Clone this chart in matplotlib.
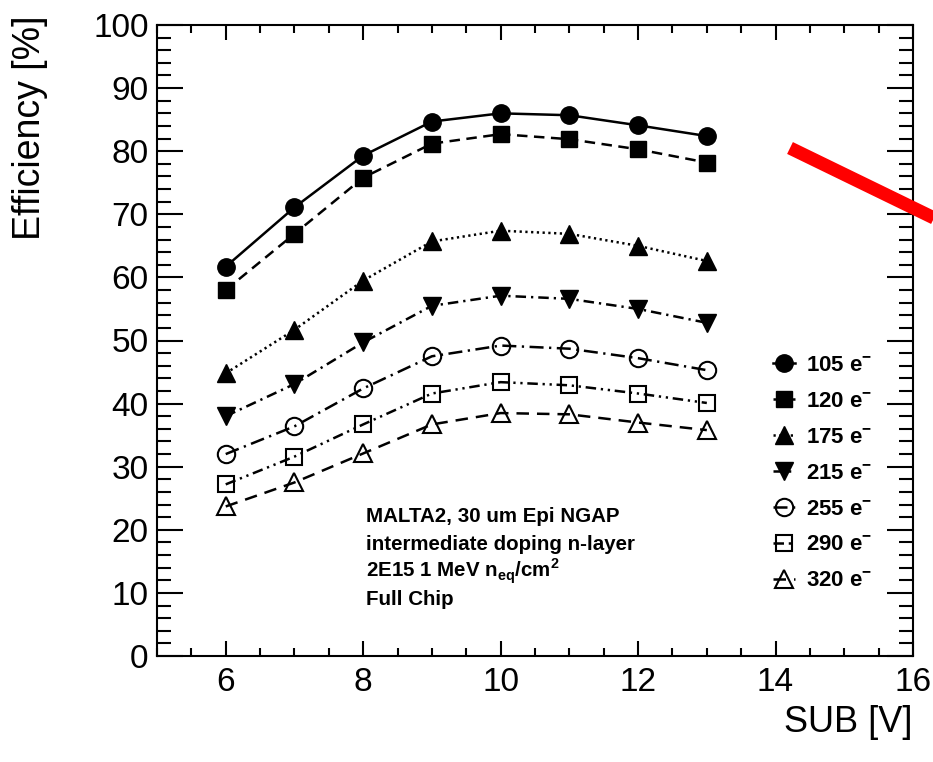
import matplotlib
matplotlib.use("Agg")
import matplotlib.pyplot as plt
from matplotlib.lines import Line2D
from matplotlib.ticker import MultipleLocator

plt.rcParams['font.family'] = ['Liberation Sans', 'DejaVu Sans']
plt.rcParams['mathtext.fontset'] = 'custom'
plt.rcParams['mathtext.rm'] = 'Liberation Sans'
plt.rcParams['mathtext.bf'] = 'Liberation Sans:bold'

# ---- data ----
sub_v = [6, 7, 8, 9, 10, 11, 12, 13]
eff_105 = [61.7, 71.1, 79.3, 84.7, 86.0, 85.7, 84.1, 82.4]
eff_120 = [58.0, 66.9, 75.8, 81.2, 82.7, 81.9, 80.3, 78.2]
eff_175 = [44.8, 51.7, 59.5, 65.7, 67.4, 66.9, 65.0, 62.6]
eff_215 = [38.0, 43.1, 49.7, 55.5, 57.1, 56.6, 55.0, 52.8]
eff_255 = [32.0, 36.4, 42.4, 47.5, 49.2, 48.7, 47.2, 45.3]
eff_290 = [27.2, 31.6, 36.7, 41.6, 43.4, 42.9, 41.6, 40.1]
eff_320 = [23.7, 27.5, 32.1, 36.7, 38.5, 38.3, 37.0, 35.8]
thresholds = ['105', '120', '175', '215', '255', '290', '320']

W, H = 933, 762
fig = plt.figure(figsize=(W / 100, H / 100), dpi=100)
ax = fig.add_axes([157 / W, 1 - 656 / H, (913 - 157) / W, (656 - 25) / H])

lw = 1.8
series = [
    (eff_105, 'o', True, '-', 12.5),
    (eff_120, 's', True, (0, (4.2, 2.6)), 12),
    (eff_175, '^', True, (0, (0.9, 1.4)), 13),
    (eff_215, 'v', True, (0, (4.2, 2.0, 0.9, 2.0)), 13),
    (eff_255, 'o', False, (0, (5.6, 2.2, 0.9, 2.2)), 12.5),
    (eff_290, 's', False, (0, (4.2, 1.9, 0.9, 1.9, 0.9, 1.9)), 12),
    (eff_320, '^', False, (0, (5.0, 3.2)), 13),
]
handles = []
for (vals, mk, filled, ls, ms), th in zip(series, thresholds):
    h, = ax.plot(sub_v, vals, linestyle=ls, color='black', linewidth=lw,
                 marker=mk, markersize=ms,
                 markerfacecolor='black' if filled else 'none',
                 markeredgecolor='black', markeredgewidth=1.5 if not filled else 1.0,
                 label=r'%s e$^{\mathbf{-}}$' % th)
    handles.append(h)

ax.set_xlim(5, 16)
ax.set_ylim(0, 100)
ax.xaxis.set_major_locator(MultipleLocator(2))
ax.xaxis.set_minor_locator(MultipleLocator(0.5))
ax.yaxis.set_major_locator(MultipleLocator(10))
ax.yaxis.set_minor_locator(MultipleLocator(2))
ax.tick_params(which='both', direction='in', top=True, right=True, width=1.5,
               labelsize=24)
ax.tick_params(axis='x', which='major', length=11, pad=8)
ax.tick_params(axis='x', which='minor', length=6)
ax.tick_params(axis='y', which='major', length=19, pad=6)
ax.tick_params(axis='y', which='minor', length=10)
for sp in ax.spines.values():
    sp.set_linewidth(1.5)

fig.text(30 / W, 1 - 15 / H, 'Efficiency [%]', rotation=90, ha='center',
         va='top', fontsize=27)
fig.text(912 / W, 1 - 723 / H, 'SUB [V]', ha='right', va='center', fontsize=26)

leg = ax.legend(handles=handles, loc='upper left',
                bbox_to_anchor=(773 / W, 1 - 355 / H), bbox_transform=fig.transFigure,
                frameon=False, handlelength=1.0, handletextpad=0.5,
                labelspacing=0.67, borderpad=0, borderaxespad=0,
                prop={'weight': 'bold', 'size': 16})

lines = ['MALTA2, 30 um Epi NGAP',
         'intermediate doping n-layer',
         r'2E15 1 MeV n$_{\mathbf{eq}}$/cm$^{\mathbf{2}}$',
         'Full Chip']
baselines = [522, 550, 577, 605]
for t, b in zip(lines, baselines):
    fig.text(366 / W, 1 - b / H, t, ha='left', va='baseline', fontsize=14.8,
             fontweight='bold')

red = Line2D([790 / W, 936 / W], [1 - 148 / H, 1 - 219 / H],
             transform=fig.transFigure, color='red', linewidth=9.5,
             solid_capstyle='butt', zorder=10)
fig.add_artist(red)

fig.savefig('out.png', dpi=100)
